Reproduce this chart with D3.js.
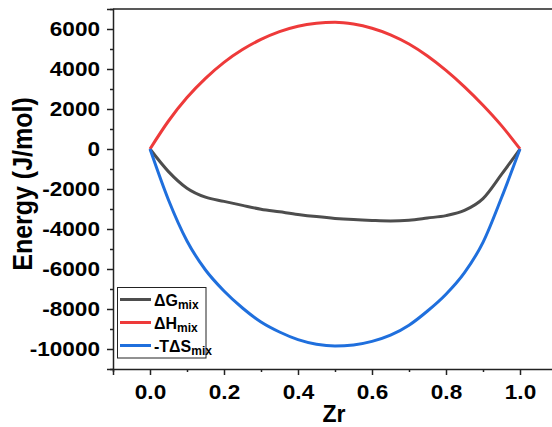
<!DOCTYPE html>
<html>
<head>
<meta charset="utf-8">
<script src="https://cdn.jsdelivr.net/npm/d3@7"></script>
<style>
  html, body { margin: 0; padding: 0; background: #fff; }
  svg { display: block; font-family: "Liberation Sans", Arial, sans-serif; }
  .tl { font-weight: bold; font-size: 20px; fill: #000; transform-box: fill-box; }
  .ytl { transform-origin: right center; transform: scaleX(1.13); }
  .xtl { transform-origin: center center; transform: scaleX(1.13); }
</style>
</head>
<body>
<script>
// ---- data ----
const zr = [0, 0.05, 0.10, 0.15, 0.20, 0.25, 0.30, 0.35, 0.40, 0.45, 0.50, 0.55, 0.60, 0.65, 0.70, 0.75, 0.80, 0.85, 0.90, 0.95, 1.00];
const dGmix = [0, -1130, -1960, -2410, -2620, -2820, -3010, -3140, -3270, -3380, -3470, -3530, -3570, -3595, -3560, -3450, -3330, -3070, -2480, -1270, 0];
const dHmix = [0, 1400, 2570, 3530, 4330, 4970, 5480, 5870, 6140, 6290, 6340, 6250, 6040, 5710, 5250, 4650, 3930, 3110, 2190, 1170, 0];
const mTdSmix = [0, -2550, -4600, -6050, -7100, -7950, -8650, -9150, -9530, -9760, -9850, -9800, -9620, -9310, -8810, -8100, -7260, -6180, -4670, -2440, 0];
const seriesColors = ["#4d4d4d", "#ee3a3a", "#1f6fdd"];
const xTicks = [0, 0.2, 0.4, 0.6, 0.8, 1.0];
const xMinor = [-0.1, 0.1, 0.3, 0.5, 0.7, 0.9];
const yTicks = [-10000, -8000, -6000, -4000, -2000, 0, 2000, 4000, 6000];
const yMinor = [-11000, -9000, -7000, -5000, -3000, -1000, 1000, 3000, 5000, 7000];

const W = 552, H = 427;
const svg = d3.select("body").append("svg").attr("width", W).attr("height", H);

const x = d3.scaleLinear().domain([-0.1, 1.1]).range([113, 557]);
const y = d3.scaleLinear().domain([-11000, 7000]).range([369, 9]);

const axisColor = "#222";

// frame top line
svg.append("line").attr("x1", x(-0.1)).attr("x2", W).attr("y1", y(7000)).attr("y2", y(7000))
  .attr("stroke", axisColor).attr("stroke-width", 1.5);

// y axis
const gy = svg.append("g").attr("transform", `translate(${x(-0.1)},0)`)
  .call(d3.axisLeft(y).tickValues(yTicks).tickSize(6).tickPadding(7).tickFormat(d => String(d)));
gy.select(".domain").attr("stroke", axisColor).attr("stroke-width", 1.5);
gy.selectAll(".tick line").attr("stroke", axisColor).attr("stroke-width", 1.5);
gy.selectAll(".tick text").attr("class", "tl ytl").attr("font-family", null).attr("font-size", null);

const gy2 = svg.append("g").attr("transform", `translate(${x(-0.1)},0)`)
  .call(d3.axisLeft(y).tickValues(yMinor).tickSize(3).tickFormat(""));
gy2.select(".domain").remove();
gy2.selectAll(".tick line").attr("stroke", axisColor).attr("stroke-width", 1.5);

// x axis
const gx = svg.append("g").attr("transform", `translate(0,${y(-11000)})`)
  .call(d3.axisBottom(x).tickValues(xTicks).tickSize(6).tickPadding(10).tickFormat(d => d.toFixed(1)));
gx.select(".domain").attr("stroke", axisColor).attr("stroke-width", 1.5);
gx.selectAll(".tick line").attr("stroke", axisColor).attr("stroke-width", 1.5);
gx.selectAll(".tick text").attr("class", "tl xtl").attr("font-family", null).attr("font-size", null);

const gx2 = svg.append("g").attr("transform", `translate(0,${y(-11000)})`)
  .call(d3.axisBottom(x).tickValues(xMinor).tickSize(3).tickFormat(""));
gx2.select(".domain").remove();
gx2.selectAll(".tick line").attr("stroke", axisColor).attr("stroke-width", 1.5);

// axis titles
svg.append("text")
  .attr("transform", "translate(32,184) rotate(-90) scale(1,1.12)")
  .attr("text-anchor", "middle")
  .attr("font-weight", "bold").attr("font-size", 25)
  .text("Energy (J/mol)");
svg.append("text")
  .attr("x", 334).attr("y", 422)
  .attr("text-anchor", "middle")
  .attr("font-weight", "bold").attr("font-size", 23)
  .text("Zr");

// curves
const allSeries = [dGmix, dHmix, mTdSmix];
const line = d3.line().x(d => x(d[0])).y(d => y(d[1])).curve(d3.curveMonotoneX);
allSeries.forEach((vals, i) => {
  svg.append("path")
    .datum(zr.map((z, j) => [z, vals[j]]))
    .attr("fill", "none")
    .attr("stroke", seriesColors[i])
    .attr("stroke-width", 3)
    .attr("stroke-linejoin", "round")
    .attr("d", line);
});

// legend
const lg = svg.append("g");
lg.append("rect").attr("x", 117.5).attr("y", 287.5).attr("width", 88.5).attr("height", 70.5)
  .attr("fill", "#fff").attr("stroke", "#222").attr("stroke-width", 1);
const labels = [["ΔG", "mix"], ["ΔH", "mix"], ["-TΔS", "mix"]];
labels.forEach((lab, i) => {
  const yy = 299.5 + i * 23;
  lg.append("line").attr("x1", 120).attr("x2", 151).attr("y1", yy).attr("y2", yy)
    .attr("stroke", seriesColors[i]).attr("stroke-width", 3);
  const t = lg.append("text").attr("x", 154).attr("y", yy + 6)
    .attr("font-weight", "bold").attr("font-size", 16);
  t.append("tspan").text(lab[0]);
  t.append("tspan").attr("font-size", 12).attr("dy", 3).text(lab[1]);
});
</script>
</body>
</html>
